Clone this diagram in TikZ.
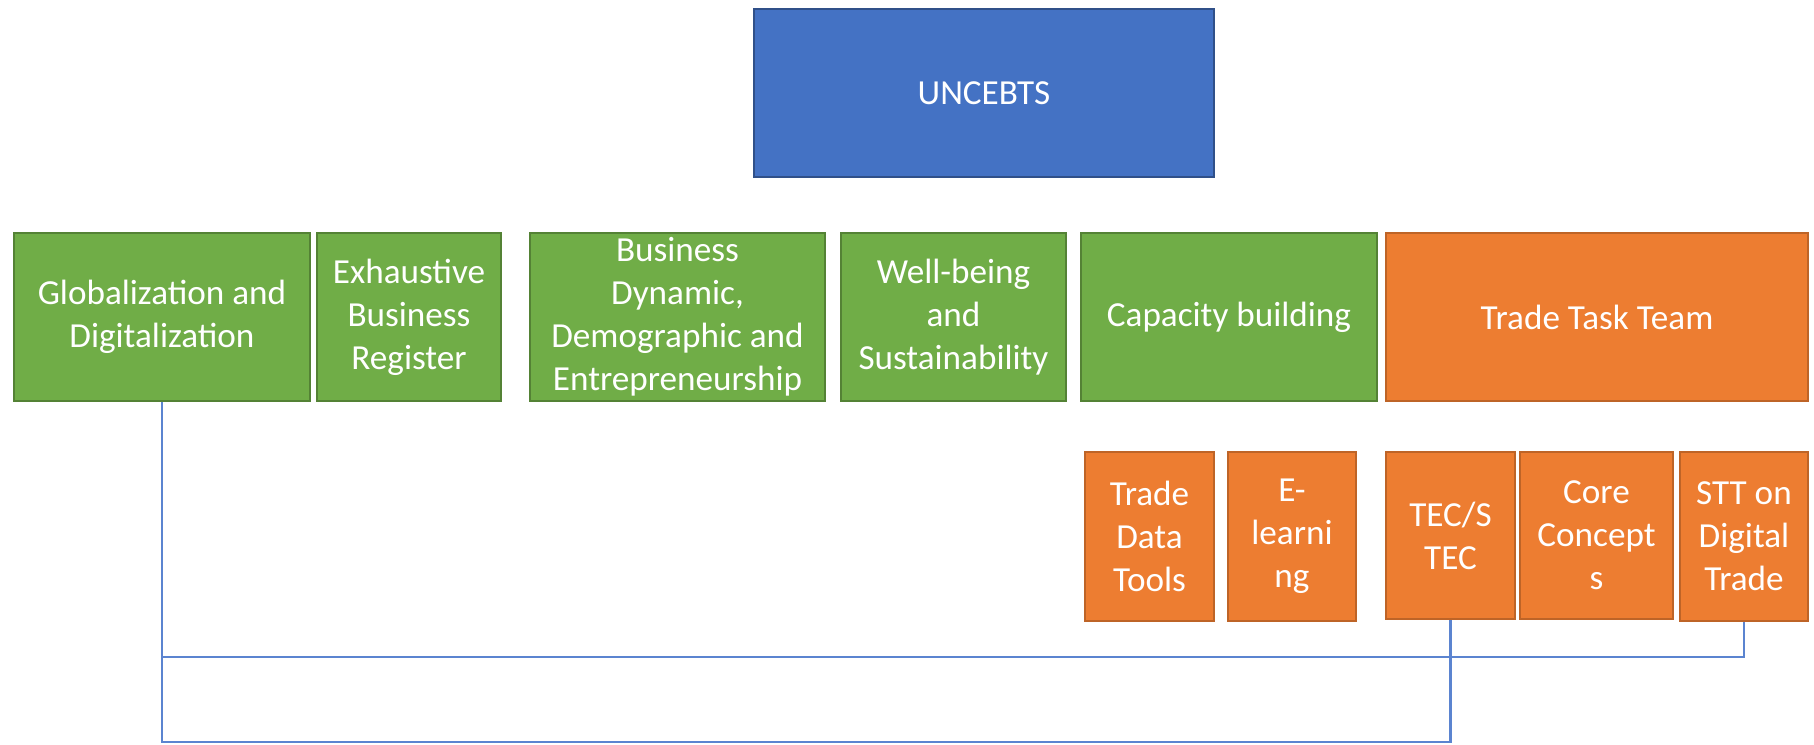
\documentclass[tikz,border=0pt]{standalone}
\usepackage{fontspec}
\setmainfont{Carlito}
\usepackage{tikz}
\usetikzlibrary{positioning}
\definecolor{boxblue}{HTML}{4472C4}
\definecolor{boxgreen}{HTML}{70AD47}
\definecolor{boxorange}{HTML}{ED7D31}
\definecolor{linkblue}{HTML}{5B84D0}

\begin{document}
\begin{tikzpicture}[x=0.01cm,y=-0.01cm,
	box/.style={draw,line width=0.5pt,text=white,align=center,inner sep=0pt,font=\fontsize{10}{12.2}\selectfont},
	bluebox/.style={box,fill=boxblue,draw=boxblue!70!black},
	greenbox/.style={box,fill=boxgreen,draw=boxgreen!75!black,minimum height=1.68cm},
	orangebox/.style={box,fill=boxorange,draw=boxorange!80!black,minimum height=1.68cm},
	subbox/.style={orangebox,minimum height=1.69cm},
	link/.style={draw=linkblue,line width=0.6pt}]
		\useasboundingbox (0,0) rectangle (1814,744);
		\node[bluebox,minimum width=4.6cm,minimum height=1.68cm] (top) at (984,93) {UNCEBTS};
		
		\node[greenbox,minimum width=2.96cm] (glob) at (162,317) {Globalization and\\Digitalization};
		\node[greenbox,minimum width=1.84cm] (exh) at (409,317) {Exhaustive\\Business\\Register};
		\node[greenbox,minimum width=2.95cm] (bdd) at (677.5,317) {Business\\Dynamic,\\Demographic and\\Entrepreneurship};
		\node[greenbox,minimum width=2.25cm] (well) at (953.5,317) {Well-being\\and\\Sustainability};
		\node[greenbox,minimum width=2.96cm] (cap) at (1229,317) {Capacity building};
		\node[orangebox,minimum width=4.22cm] (ttt) at (1597,317) {Trade Task Team};
		
		\node[subbox,minimum width=1.29cm] (tdt) at (1149.5,536.5) {Trade\\Data\\Tools};
		\node[subbox,minimum width=1.28cm] (elearn) at (1292,536.5) {E-\\learni\\ng};
		\node[subbox,minimum width=1.29cm,minimum height=1.67cm] (tec) at (1450.5,535.5) {TEC/S\\TEC};
		\node[subbox,minimum width=1.53cm,minimum height=1.67cm] (core) at (1596.5,535.5) {Core\\Concept\\s};
		\node[subbox,minimum width=1.28cm] (stt) at (1744,536.5) {STT on\\Digital\\Trade};
		
		\coordinate (low) at (0,742);
		\coordinate (mid) at (0,657);
		\draw[link] (glob.south) -- (glob.south |- low) -- (tec.south |- low) -- (tec.south);
		\draw[link] (glob.south |- mid) -- (stt.south |- mid) -- (stt.south);
	\end{tikzpicture}
\end{document}
